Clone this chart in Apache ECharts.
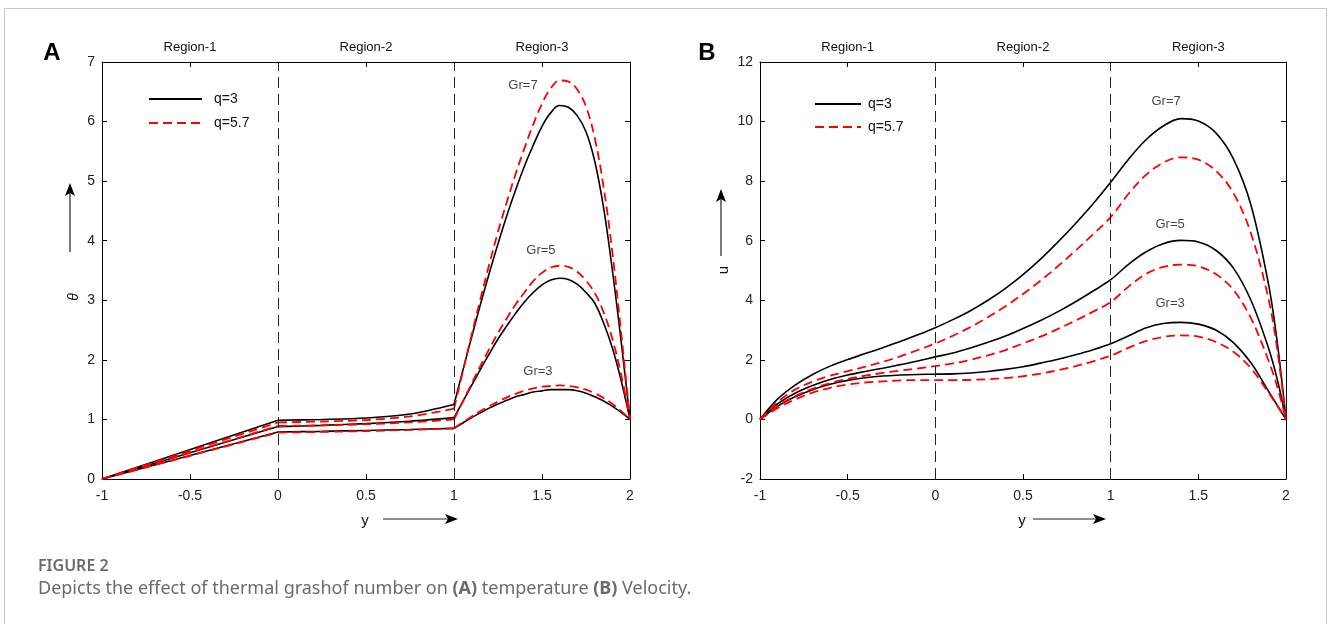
<!DOCTYPE html>
<html>
<head>
<meta charset="utf-8">
<script src="https://cdn.jsdelivr.net/npm/echarts@6/dist/echarts.min.js"></script>
<style>
  html, body { margin: 0; padding: 0; background: #fff; }
  #chart { width: 1328px; height: 624px; }
</style>
</head>
<body>
<div id="chart"></div>
<script>
// ---------- Panel A: temperature theta(y) ----------
const wallTheta = 0;                       // theta at y = -1
const thetaX1 = [-1, 0];                   // region 1 endpoints
const thetaX2 = [0, 0.25, 0.5, 0.75, 1];   // region 2
const thetaX3 = [1, 1.05, 1.1, 1.15, 1.2, 1.25, 1.3, 1.35, 1.4, 1.45, 1.5,
                 1.55, 1.6, 1.65, 1.7, 1.75, 1.8, 1.85, 1.9, 1.95, 2];

const thGr7Q3R2  = [0.985, 1.0, 1.025, 1.09, 1.25];
const thGr7Q57R2 = [0.95, 0.965, 0.99, 1.05, 1.18];
const thGr5Q3R2  = [0.88, 0.9, 0.93, 0.97, 1.03];
const thGr5Q57R2 = [0.89, 0.9, 0.92, 0.95, 1.0];
const thGr3Q3R2  = [0.79, 0.8, 0.815, 0.83, 0.85];
const thGr3Q57R2 = [0.78, 0.79, 0.805, 0.825, 0.85];

const thGr7Q3R3  = [1.25, 1.82, 2.38, 2.93, 3.45, 3.95, 4.42, 4.85, 5.25, 5.6, 5.92,
                    6.15, 6.27, 6.24, 6.1, 5.83, 5.33, 4.55, 3.5, 2.3, 1.0];
const thGr7Q57R3 = [1.18, 1.8, 2.42, 3.02, 3.6, 4.15, 4.65, 5.12, 5.55, 5.95, 6.3,
                    6.56, 6.69, 6.67, 6.54, 6.25, 5.72, 4.9, 3.8, 2.45, 1.0];
const thGr5Q3R3  = [1.03, 1.3, 1.57, 1.84, 2.1, 2.35, 2.57, 2.78, 2.97, 3.13, 3.26,
                    3.34, 3.37, 3.35, 3.27, 3.13, 2.95, 2.62, 2.2, 1.65, 1.0];
const thGr5Q57R3 = [1.0, 1.3, 1.6, 1.9, 2.18, 2.45, 2.7, 2.93, 3.13, 3.32, 3.46,
                    3.55, 3.58, 3.56, 3.48, 3.33, 3.12, 2.8, 2.35, 1.75, 1.0];
const thGr3Q3R3  = [0.85, 0.94, 1.03, 1.11, 1.19, 1.26, 1.32, 1.38, 1.42, 1.46, 1.48,
                    1.5, 1.5, 1.5, 1.48, 1.44, 1.38, 1.31, 1.22, 1.12, 1.0];
const thGr3Q57R3 = [0.85, 0.95, 1.05, 1.14, 1.22, 1.3, 1.37, 1.43, 1.48, 1.52, 1.55,
                    1.56, 1.57, 1.56, 1.54, 1.5, 1.44, 1.36, 1.26, 1.14, 1.0];

// ---------- Panel B: velocity u(y) ----------
const uX = [-1, -0.9, -0.8, -0.7, -0.6, -0.5, -0.4, -0.3, -0.2, -0.1, 0,
            0.1, 0.2, 0.3, 0.4, 0.5, 0.6, 0.7, 0.8, 0.9, 1,
            1.1, 1.2, 1.3, 1.4, 1.5, 1.6, 1.7, 1.8, 1.9, 1.95, 2];
const uGr7Q3  = [0, 0.68, 1.15, 1.51, 1.79, 2.01, 2.21, 2.41, 2.62, 2.84, 3.08,
                 3.35, 3.65, 4.0, 4.4, 4.86, 5.38, 5.96, 6.58, 7.24, 7.96,
                 8.72, 9.38, 9.85, 10.1, 10.02, 9.62, 8.75, 7.2, 4.55, 2.6, 0];
const uGr7Q57 = [0, 0.58, 1.0, 1.27, 1.47, 1.62, 1.77, 1.93, 2.12, 2.33, 2.55,
                 2.81, 3.1, 3.43, 3.8, 4.21, 4.66, 5.15, 5.67, 6.22, 6.79,
                 7.56, 8.2, 8.62, 8.8, 8.72, 8.35, 7.6, 6.25, 4.05, 2.35, 0];
const uGr5Q3  = [0, 0.52, 0.88, 1.14, 1.34, 1.49, 1.61, 1.72, 1.84, 1.96, 2.1,
                 2.23, 2.4, 2.59, 2.8, 3.05, 3.32, 3.62, 3.95, 4.31, 4.69,
                 5.2, 5.62, 5.9, 6.01, 5.96, 5.68, 5.08, 4.0, 2.4, 1.35, 0];
const uGr5Q57 = [0, 0.45, 0.78, 1.03, 1.22, 1.36, 1.47, 1.56, 1.64, 1.71, 1.79,
                 1.88, 2.0, 2.15, 2.33, 2.55, 2.78, 3.04, 3.32, 3.62, 3.94,
                 4.45, 4.88, 5.12, 5.2, 5.14, 4.88, 4.35, 3.4, 1.98, 1.1, 0];
const uGr3Q3  = [0, 0.44, 0.76, 1.0, 1.18, 1.31, 1.4, 1.46, 1.49, 1.51, 1.52,
                 1.53, 1.56, 1.61, 1.68, 1.77, 1.89, 2.02, 2.17, 2.34, 2.54,
                 2.8, 3.07, 3.22, 3.26, 3.2, 3.0, 2.58, 1.9, 0.95, 0.48, 0];
const uGr3Q57 = [0, 0.38, 0.67, 0.9, 1.06, 1.17, 1.24, 1.28, 1.31, 1.32, 1.32,
                 1.32, 1.33, 1.35, 1.39, 1.45, 1.54, 1.65, 1.79, 1.95, 2.14,
                 2.4, 2.63, 2.77, 2.82, 2.78, 2.6, 2.27, 1.72, 0.9, 0.46, 0];

const regionBounds = [0, 1];
const regionNames = ['Region-1', 'Region-2', 'Region-3'];
const regionCenters = [-0.5, 0.5, 1.5];
const legendNames = ['q=3', 'q=5.7'];
const grNames = ['Gr=7', 'Gr=5', 'Gr=3'];
// label anchors (data units) for the Gr annotations
const grAnchorsA = [[1.392, 6.6], [1.494, 3.84], [1.477, 1.8]];
const grAnchorsB = [[1.316, 10.68], [1.339, 6.56], [1.339, 3.91]];

// ---------- styling ----------
const FONT = '"Liberation Sans", Arial, sans-serif';
const BLACK = '#000000';
const RED = '#ff0000';
const solid = { color: BLACK, width: 1.6, type: 'solid' };
const dashed = { color: RED, width: 1.8, type: [9, 5] };

const zip = (xs, ys) => xs.map((x, i) => [x, ys[i]]);

function curve(name, data, grid, style, smooth) {
  return {
    name, type: 'line', xAxisIndex: grid * 2, yAxisIndex: grid * 2,
    data, smooth: smooth, symbol: 'none', showSymbol: false, silent: true,
    lineStyle: style, itemStyle: { color: style.color }, z: style.color === RED ? 4 : 3
  };
}

const series = [];
// Panel A: each curve split at the region interfaces
[
  [legendNames[0], thGr7Q3R2, thGr7Q3R3, solid],
  [legendNames[1], thGr7Q57R2, thGr7Q57R3, dashed],
  [legendNames[0], thGr5Q3R2, thGr5Q3R3, solid],
  [legendNames[1], thGr5Q57R2, thGr5Q57R3, dashed],
  [legendNames[0], thGr3Q3R2, thGr3Q3R3, solid],
  [legendNames[1], thGr3Q57R2, thGr3Q57R3, dashed]
].forEach(([name, r2, r3, st]) => {
  series.push(curve(name, zip(thetaX1, [wallTheta, r2[0]]), 0, st, false));
  series.push(curve(name, zip(thetaX2, r2), 0, st, 0.3));
  series.push(curve(name, zip(thetaX3, r3), 0, st, 0.4));
});
// Panel B
[
  [legendNames[0], uGr7Q3, solid],
  [legendNames[1], uGr7Q57, dashed],
  [legendNames[0], uGr5Q3, solid],
  [legendNames[1], uGr5Q57, dashed],
  [legendNames[0], uGr3Q3, solid],
  [legendNames[1], uGr3Q57, dashed]
].forEach(([name, ys, st]) => series.push(curve(name, zip(uX, ys), 1, st, 0.35)));

// region interfaces and Gr annotations
[0, 1].forEach(g => {
  series.push({
    type: 'line', xAxisIndex: g * 2, yAxisIndex: g * 2, data: [], silent: true,
    markLine: {
      symbol: 'none', silent: true, animation: false, label: { show: false },
      lineStyle: { color: '#222', width: 1, type: [11, 6] },
      data: regionBounds.map(b => ({ xAxis: b }))
    }
  });
  const anchors = g === 0 ? grAnchorsA : grAnchorsB;
  series.push({
    type: 'scatter', xAxisIndex: g * 2, yAxisIndex: g * 2, silent: true,
    symbolSize: 0, clip: false,
    data: anchors.map((p, i) => ({ value: p, name: grNames[i] })),
    label: { show: true, position: 'inside', formatter: '{b}', color: '#111', fontSize: 13, fontFamily: FONT }
  });
});

function xAxes(grid) {
  const base = {
    gridIndex: grid, type: 'value', min: -1, max: 2, interval: 0.5,
    splitLine: { show: false },
    axisLine: { show: true, onZero: false, lineStyle: { color: '#000', width: 1 } },
    axisTick: { show: true, inside: true, length: 5, lineStyle: { color: '#000' } }
  };
  return [
    Object.assign({}, base, { position: 'bottom',
      axisLabel: { color: '#222', fontSize: 14, fontFamily: FONT, margin: 10 } }),
    Object.assign({}, base, { position: 'top', axisLabel: { show: false } })
  ];
}
function yAxes(grid, min, max, interval) {
  const base = {
    gridIndex: grid, type: 'value', min, max, interval,
    splitLine: { show: false },
    axisLine: { show: true, onZero: false, lineStyle: { color: '#000', width: 1 } },
    axisTick: { show: true, inside: true, length: 5, lineStyle: { color: '#000' } }
  };
  return [
    Object.assign({}, base, { position: 'left',
      axisLabel: { color: '#222', fontSize: 14, fontFamily: FONT, margin: 7 } }),
    Object.assign({}, base, { position: 'right', axisLabel: { show: false } })
  ];
}

const legendCommon = {
  data: legendNames, orient: 'vertical', padding: 0, itemHeight: 12, selectedMode: false,
  itemStyle: { opacity: 0 }
};

const chart = echarts.init(document.getElementById('chart'), null, { renderer: 'canvas' });
chart.setOption({
  animation: false,
  backgroundColor: '#fff',
  textStyle: { fontFamily: FONT },
  grid: [
    { left: 102, top: 62, width: 528, height: 417 },
    { left: 760, top: 62, width: 526, height: 417 }
  ],
  xAxis: [...xAxes(0), ...xAxes(1)],
  yAxis: [...yAxes(0, 0, 7, 1), ...yAxes(1, -2, 12, 2)],
  legend: [
    Object.assign({}, legendCommon, { left: 148, top: 92, itemWidth: 53, itemGap: 10,
      textStyle: { fontSize: 14, color: '#111', fontFamily: FONT, padding: [0, 0, 0, 7] } }),
    Object.assign({}, legendCommon, { left: 814, top: 97, itemWidth: 46, itemGap: 9,
      textStyle: { fontSize: 14, color: '#111', fontFamily: FONT, padding: [0, 0, 0, 2] } })
  ],
  series
});

// ---------- decorations: region titles, axis names with arrows, panel tags, caption ----------
const graphics = [];
[0, 1].forEach(g => {
  regionCenters.forEach((c, i) => {
    const px = chart.convertToPixel({ xAxisIndex: g * 2 }, c);
    graphics.push({ type: 'text', x: px, y: 47, silent: true,
      style: { text: regionNames[i], fill: '#111', font: '13px ' + FONT, textAlign: 'center', textVerticalAlign: 'middle' } });
  });
});

function arrowUp(x, yTop, yBottom) {
  graphics.push({ type: 'line', silent: true, shape: { x1: x, y1: yBottom, x2: x, y2: yTop + 8 },
    style: { stroke: '#222', lineWidth: 1.2 } });
  graphics.push({ type: 'polygon', silent: true,
    shape: { points: [[x, yTop], [x - 5, yTop + 13], [x, yTop + 10], [x + 5, yTop + 13]] },
    style: { fill: '#000' } });
}
function arrowRight(xLeft, xRight, y) {
  graphics.push({ type: 'line', silent: true, shape: { x1: xLeft, y1: y, x2: xRight - 8, y2: y },
    style: { stroke: '#222', lineWidth: 1.2 } });
  graphics.push({ type: 'polygon', silent: true,
    shape: { points: [[xRight, y], [xRight - 13, y - 5], [xRight - 10, y], [xRight - 13, y + 5]] },
    style: { fill: '#000' } });
}
arrowUp(70, 183, 252);
arrowUp(721, 189, 256);
arrowRight(383, 458, 519);
arrowRight(1033, 1106, 519);

graphics.push({ type: 'text', x: 74, y: 297, rotation: Math.PI / 2, silent: true,
  style: { text: 'θ', fill: '#111', font: 'italic 14px ' + FONT, textAlign: 'center', textVerticalAlign: 'middle' } });
graphics.push({ type: 'text', x: 724, y: 270, rotation: Math.PI / 2, silent: true,
  style: { text: 'u', fill: '#111', font: '15px ' + FONT, textAlign: 'center', textVerticalAlign: 'middle' } });
graphics.push({ type: 'text', x: 365, y: 521, silent: true,
  style: { text: 'y', fill: '#111', font: '15px ' + FONT, textAlign: 'center', textVerticalAlign: 'middle' } });
graphics.push({ type: 'text', x: 1022, y: 521, silent: true,
  style: { text: 'y', fill: '#111', font: '15px ' + FONT, textAlign: 'center', textVerticalAlign: 'middle' } });

graphics.push({ type: 'text', x: 52, y: 53, silent: true,
  style: { text: 'A', fill: '#000', font: 'bold 24px ' + FONT, textAlign: 'center', textVerticalAlign: 'middle' } });
graphics.push({ type: 'text', x: 707, y: 53, silent: true,
  style: { text: 'B', fill: '#000', font: 'bold 24px ' + FONT, textAlign: 'center', textVerticalAlign: 'middle' } });

const CAPFONT = '"Noto Sans", "Open Sans", sans-serif';
graphics.push({ type: 'text', x: 38, y: 566, silent: true,
  style: { text: 'FIGURE 2', fill: '#6b6b6b', font: '600 16px ' + CAPFONT, textVerticalAlign: 'middle' } });
graphics.push({ type: 'text', x: 38, y: 589, silent: true,
  style: {
    text: '{n|Depicts the effect of thermal grashof number on }{b|(A)}{n| temperature }{b|(B)}{n| Velocity.}',
    textVerticalAlign: 'middle',
    rich: {
      n: { fill: '#6b6b6b', font: '18px ' + CAPFONT },
      b: { fill: '#6b6b6b', font: 'bold 18px ' + CAPFONT }
    }
  } });

// page frame
graphics.push({ type: 'rect', silent: true, z: -1,
  shape: { x: 4.5, y: 8.5, width: 1322, height: 700 },
  style: { fill: 'none', stroke: '#c8c8c8', lineWidth: 1 } });

chart.setOption({ graphic: graphics });
</script>
</body>
</html>
